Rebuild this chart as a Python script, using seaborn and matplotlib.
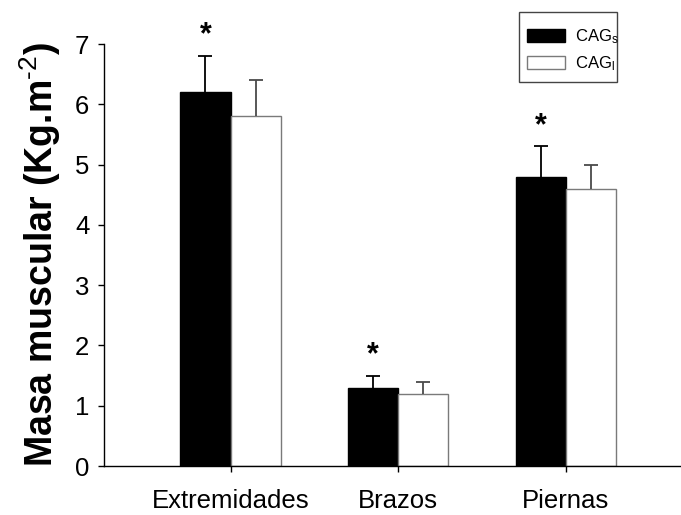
import numpy as np
import pandas as pd
import seaborn as sns
import matplotlib
matplotlib.use("Agg")
import matplotlib.pyplot as plt
from matplotlib.patches import Patch, Rectangle

# Data: muscle mass by body region for the two groups
regions = ["Extremidades", "Brazos", "Piernas"]
groups = ["CAGs", "CAGl"]
cag_s_mean = [6.2, 1.3, 4.8]
cag_s_err = [0.6, 0.2, 0.5]
cag_l_mean = [5.8, 1.2, 4.6]
cag_l_err = [0.6, 0.2, 0.4]
significant = [True, True, True]
y_ticks = [0, 1, 2, 3, 4, 5, 6, 7]

sns.set_theme(style="ticks")
plt.rcParams["font.family"] = ["Liberation Sans", "DejaVu Sans"]
plt.rcParams["mathtext.fontset"] = "custom"
plt.rcParams["mathtext.rm"] = "Liberation Sans"
plt.rcParams["mathtext.it"] = "Liberation Sans:italic"
plt.rcParams["mathtext.bf"] = "Liberation Sans:bold"
for key in ["text.color", "axes.labelcolor", "xtick.color", "ytick.color",
            "xtick.labelcolor", "ytick.labelcolor"]:
    plt.rcParams[key] = "black"

df = pd.DataFrame({
    "region": regions * 2,
    "group": [groups[0]] * 3 + [groups[1]] * 3,
    "value": cag_s_mean + cag_l_mean,
})

fig = plt.figure(figsize=(6.81, 5.15), dpi=100)
ax = fig.add_axes([104 / 681, 49 / 515, 1 - 104 / 681, 422 / 515])

sns.barplot(data=df, x="region", y="value", hue="group", order=regions,
            hue_order=groups, palette={"CAGs": "black", "CAGl": "white"},
            width=0.6, errorbar=None, ax=ax, legend=False)

edge_colors = ["black", "#7a7a7a"]
err_colors = ["black", "#4a4a4a"]
means = [cag_s_mean, cag_l_mean]
errs = [cag_s_err, cag_l_err]
bar_containers = list(ax.containers)
for k, cont in enumerate(bar_containers):
    xs = [b.get_x() + b.get_width() / 2 for b in cont.patches]
    for b in cont.patches:
        b.set_edgecolor(edge_colors[k])
        b.set_linewidth(1.0)
    eb = ax.errorbar(xs, means[k], yerr=[np.zeros(len(xs)), errs[k]],
                     fmt="none", ecolor=err_colors[k], elinewidth=1.3,
                     capsize=4.7, capthick=1.3, zorder=1)
    # only the upper cap is drawn
    eb[1][0].set_visible(False)
    if k == 0:
        for x, m, e, s in zip(xs, means[k], errs[k], significant):
            if s:
                ax.annotate("*", (x, m + e), xytext=(0, 4),
                            textcoords="offset points", ha="center",
                            va="bottom", fontsize=22, fontweight="bold")

ax.set_xlim(-0.755, 2.687)
ax.set_ylim(0, 7)
ax.set_yticks(y_ticks)
ax.set_xlabel("")
ax.set_ylabel("Masa muscular (Kg.m$^{\\text{-2}}$)", fontsize=27,
              fontweight="bold", labelpad=9)
ax.tick_params(axis="both", labelsize=18.5, length=4.5, width=1,
               color="black", direction="out")
ax.tick_params(axis="x", pad=12)
ax.tick_params(axis="y", pad=6)
for sp in ["top", "right"]:
    ax.spines[sp].set_visible(False)
for sp in ["left", "bottom"]:
    ax.spines[sp].set_color("black")
    ax.spines[sp].set_linewidth(1.0)

# legend box
fig.patches.append(Rectangle((519 / 681, 1 - 82 / 515), 98 / 681, 70 / 515,
                             transform=fig.transFigure, facecolor="white",
                             edgecolor="#444444", linewidth=1.0, zorder=3))
handles = [Patch(facecolor="black", edgecolor="black", label="CAG$_\\mathregular{s}$"),
           Patch(facecolor="white", edgecolor="#7a7a7a", label="CAG$_\\mathregular{l}$")]
leg = fig.legend(handles=handles, loc="upper left",
                 bbox_to_anchor=(527 / 681, 1 - 27 / 515), fontsize=12,
                 frameon=False, handlelength=2.3, handleheight=0.8,
                 handletextpad=0.6, borderpad=0, labelspacing=0.5,
                 borderaxespad=0)
leg.set_zorder(4)

fig.savefig("out.png", dpi=100)
